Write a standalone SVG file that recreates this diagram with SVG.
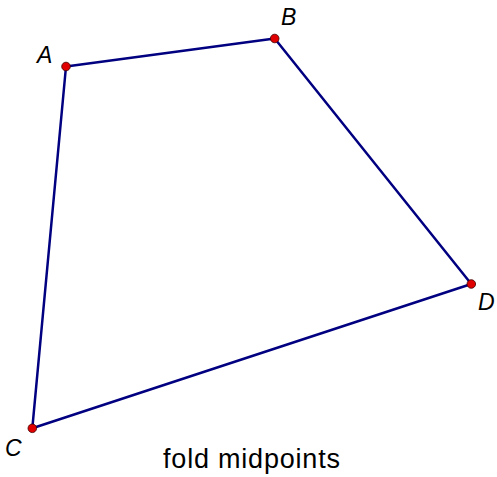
<svg xmlns="http://www.w3.org/2000/svg" width="497" height="477" viewBox="0 0 497 477">
<style>
.edge{stroke:#000080;stroke-width:2.5;fill:none;stroke-linecap:round}
.pt{fill:#e00000;stroke:#400000;stroke-width:0.8}
.lbl{font-family:"Liberation Sans",Arial,sans-serif;font-style:italic;font-size:23px;fill:#000}
.cap{font-family:"Liberation Sans",Arial,sans-serif;font-size:27px;fill:#000}
</style>
<rect width="497" height="477" fill="#fff"/>
<g id="connectors">
<line class="edge" x1="66" y1="66.5" x2="274.7" y2="38.5"/>
<line class="edge" x1="274.7" y1="38.5" x2="471.3" y2="284"/>
<line class="edge" x1="471.3" y1="284" x2="32.3" y2="428.3"/>
<line class="edge" x1="32.3" y1="428.3" x2="66" y2="66.5"/>
</g>
<g id="A"><circle class="pt" cx="66" cy="66.5" r="4.3"/><text class="lbl" x="37" y="63">A</text></g>
<g id="B"><circle class="pt" cx="274.7" cy="38.5" r="4.3"/><text class="lbl" x="281" y="25">B</text></g>
<g id="D"><circle class="pt" cx="471.3" cy="284" r="4.3"/><text class="lbl" x="478" y="310">D</text></g>
<g id="C"><circle class="pt" cx="32.3" cy="428.3" r="4.3"/><text class="lbl" x="5" y="456">C</text></g>
<text class="cap" x="163" y="468" textLength="177">fold midpoints</text>
</svg>
